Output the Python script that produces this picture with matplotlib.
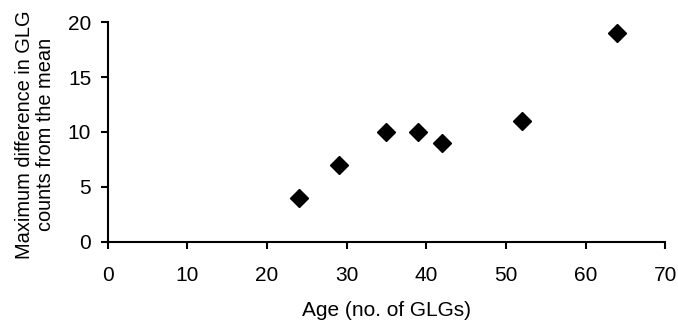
import matplotlib
matplotlib.use("Agg")
import matplotlib.pyplot as plt

plt.rcParams.update({
    "font.family": ["Liberation Sans", "DejaVu Sans"],
    "font.size": 15,
})

# data
age = [24, 29, 35, 39, 42, 52, 64]
max_diff = [4, 7, 10, 10, 9, 11, 19]
xticks = [0, 10, 20, 30, 40, 50, 60, 70]
yticks = [0, 5, 10, 15, 20]

fig = plt.figure(figsize=(6.78, 3.2), dpi=100)
ax = fig.add_axes([0.159, 0.244, 0.822, 0.687])

ax.plot(age, max_diff, linestyle="none", marker="D", markersize=9,
        color="black", clip_on=False)

ax.set_xlim(0, 70)
ax.set_ylim(0, 20)
ax.set_xticks(xticks)
ax.set_yticks(yticks)
ax.spines["top"].set_visible(False)
ax.spines["right"].set_visible(False)
for s in ("left", "bottom"):
    ax.spines[s].set_linewidth(1.5)
ax.tick_params(direction="out", length=5, width=1.5, labelsize=15)
ax.tick_params(axis="x", pad=12)
ax.tick_params(axis="y", pad=7)

ax.set_xlabel("Age (no. of GLGs)", fontsize=15, labelpad=12)
ax.set_ylabel("Maximum difference in GLG\ncounts from the mean", fontsize=14.4,
              linespacing=1.15)
ax.yaxis.set_label_coords(-0.095, 0.49)

fig.savefig("out.png", dpi=100)
